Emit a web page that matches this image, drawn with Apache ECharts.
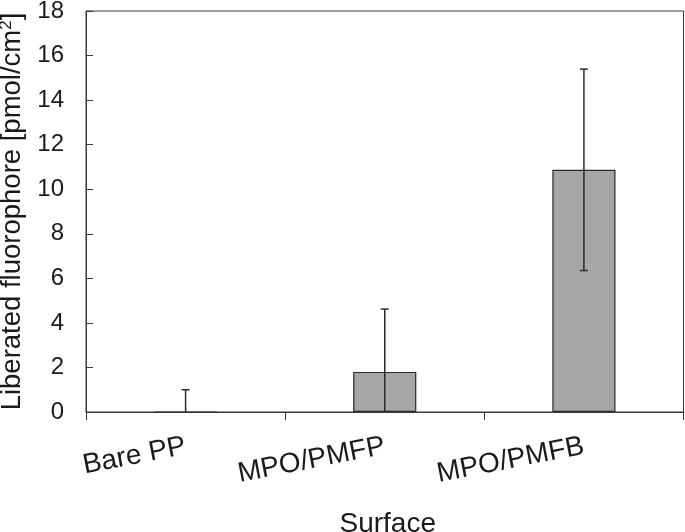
<!DOCTYPE html>
<html><head><meta charset="utf-8">
<script src="https://cdn.jsdelivr.net/npm/echarts@6/dist/echarts.min.js"></script>
<style>html,body{margin:0;padding:0;background:#fff}#c{width:685px;height:532px}</style>
</head><body><div id="c"></div>
<script>
var categories = ['Bare PP', 'MPO/PMFP', 'MPO/PMFB'];
var values = [0, 1.8, 10.87];
var errors = [1.0, 2.82, 4.52];
var yTicks = [0, 2, 4, 6, 8, 10, 12, 14, 16, 18];

var chart = echarts.init(document.getElementById('c'), null, {renderer: 'canvas'});
var font = '"Liberation Sans", Arial, sans-serif';
var txt = '#1a1a1a';
var errData = categories.map(function (c, i) { return [i, values[i] - errors[i], values[i] + errors[i]]; });
chart.setOption({
  animation: false,
  grid: {left: 86, right: 1.5, top: 11, bottom: 120, containLabel: false, outerBoundsMode: 'none',
         show: true, borderColor: '#3a3a3a', borderWidth: 1, backgroundColor: 'transparent'},
  xAxis: {
    type: 'category', data: categories, boundaryGap: true,
    name: 'Surface', nameLocation: 'middle', nameGap: 98,
    nameTextStyle: {fontFamily: font, fontSize: 28, color: txt, padding: [0, 0, 0, 6]},
    axisLine: {lineStyle: {color: '#3a3a3a', width: 1}},
    axisTick: {show: true, inside: false, length: 8, alignWithLabel: false, lineStyle: {color: '#3a3a3a'}},
    axisLabel: {rotate: 11, margin: 34, fontFamily: font, fontSize: 28, color: txt, interval: 0}
  },
  yAxis: {
    type: 'value', min: 0, max: 18, interval: 2,
    name: '{a|Liberated fluorophore [pmol/cm}{s|2}{a|]}', nameLocation: 'middle', nameGap: 57,
    nameTextStyle: {fontFamily: font, fontSize: 28, color: txt,
      rich: {a: {fontFamily: font, fontSize: 27.5, color: txt, lineHeight: 30},
             s: {fontFamily: font, fontSize: 17, color: txt, lineHeight: 30, verticalAlign: 'top', padding: [0, 0, 12, 0]}}},
    axisLine: {show: true, lineStyle: {color: '#3a3a3a', width: 1}},
    axisTick: {show: true, inside: true, length: 7, lineStyle: {color: '#3a3a3a'}},
    splitLine: {show: false},
    axisLabel: {margin: 22, fontFamily: font, fontSize: 24, color: txt,
      formatter: function (v) { return yTicks.indexOf(v) >= 0 ? String(v) : ''; }}
  },
  series: [{
    type: 'bar', data: values, barWidth: '31.7%', z: 1,
    itemStyle: {color: '#a6a6a6', borderColor: '#2a2a2a', borderWidth: 1.2}
  }, {
    type: 'custom', data: errData, z: 10,
    renderItem: function (params, api) {
      var x = api.value(0);
      var lo = api.coord([x, Math.max(api.value(1), 0)]);
      var hi = api.coord([x, api.value(2)]);
      var cap = 4;
      var st = {stroke: '#2a2a2a', lineWidth: 1.5};
      var children = [
        {type: 'line', shape: {x1: hi[0], y1: hi[1], x2: lo[0], y2: lo[1]}, style: st},
        {type: 'line', shape: {x1: hi[0] - cap, y1: hi[1], x2: hi[0] + cap, y2: hi[1]}, style: st}
      ];
      if (api.value(1) > 0) {
        children.push({type: 'line', shape: {x1: lo[0] - cap, y1: lo[1], x2: lo[0] + cap, y2: lo[1]}, style: st});
      }
      return {type: 'group', children: children};
    }
  }]
});
</script></body></html>
